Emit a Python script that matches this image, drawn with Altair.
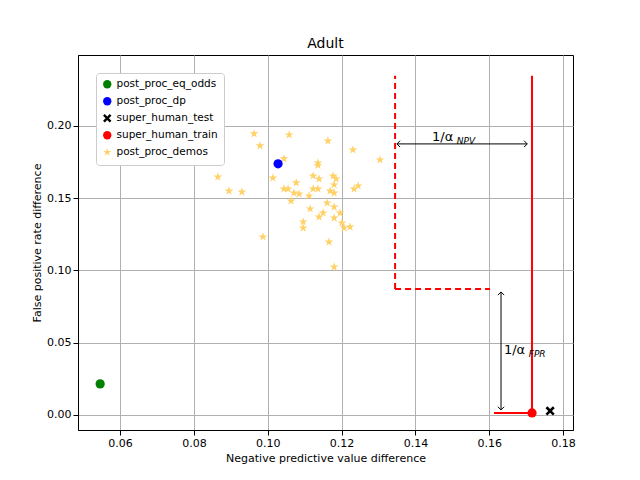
import altair as alt
import pandas as pd

demo_x = [0.0963, 0.1058, 0.0979, 0.1163, 0.1231, 0.1304, 0.1044, 0.1136, 0.1136, 0.0865,
          0.1014, 0.1123, 0.1139, 0.1177, 0.1185, 0.1077, 0.1180, 0.0895, 0.0930, 0.1044,
          0.1055, 0.1071, 0.1085, 0.1112, 0.1123, 0.1136, 0.1169, 0.1180, 0.1234, 0.1245,
          0.1063, 0.1161, 0.1180, 0.1115, 0.1150, 0.1139, 0.1196, 0.1180, 0.1096, 0.1096,
          0.1201, 0.1207, 0.1223, 0.0987, 0.1166, 0.1180]
demo_y = [0.1945, 0.1938, 0.1862, 0.1896, 0.1834, 0.1765, 0.1772, 0.1744, 0.1727, 0.1647,
          0.1640, 0.1654, 0.1633, 0.1654, 0.1633, 0.1606, 0.1592, 0.1550, 0.1543, 0.1564,
          0.1564, 0.1536, 0.1529, 0.1516, 0.1564, 0.1564, 0.1550, 0.1536, 0.1564, 0.1585,
          0.1481, 0.1467, 0.1439, 0.1426, 0.1398, 0.1370, 0.1398, 0.1363, 0.1336, 0.1294,
          0.1329, 0.1294, 0.1301, 0.1232, 0.1197, 0.1024]

series = ["post_proc_eq_odds", "post_proc_dp", "super_human_test", "super_human_train", "post_proc_demos"]
colors = ["green", "blue", "black", "red", "#ffd166"]
star = "M0,-1L0.2245,-0.309L0.951,-0.309L0.363,0.118L0.588,0.809L0,0.382L-0.588,0.809L-0.363,0.118L-0.951,-0.309L-0.2245,-0.309Z"
xmark = "M-1,-0.6L-0.6,-1L0,-0.4L0.6,-1L1,-0.6L0.4,0L1,0.6L0.6,1L0,0.4L-0.6,1L-1,0.6L-0.4,0Z"
shapes = ["circle", "circle", xmark, "circle", star]

pts = pd.DataFrame({
    "x": [0.0546, 0.1028, 0.1765, 0.1716] + demo_x,
    "y": [0.0215, 0.1737, 0.0028, 0.0014] + demo_y,
    "series": series[:4] + [series[4]] * len(demo_x),
})
pts["z"] = pts["series"].map({"post_proc_demos": 0}).fillna(1)

# solid and dashed segments
solid = pd.DataFrame({"x": [0.1716, 0.1613], "x2": [0.1716, 0.1716],
                      "y": [0.0014, 0.0014], "y2": [0.2346, 0.0014]})
dashed = pd.DataFrame({"x": [0.1345, 0.1345], "x2": [0.1345, 0.1602],
                       "y": [0.0872, 0.0872], "y2": [0.2346, 0.0872]})
arrows = pd.DataFrame({"x": [0.1350, 0.1632], "x2": [0.1703, 0.1632],
                       "y": [0.1875, 0.0851], "y2": [0.1875, 0.0035]})
heads = pd.DataFrame({"x": [0.1350, 0.1703, 0.1632, 0.1632],
                      "y": [0.1875, 0.1875, 0.0851, 0.0035],
                      "a": [0, 180, 90, 270]})
labels = pd.DataFrame({"x": [0.1445, 0.1640], "y": [0.1925, 0.0450],
                       "t": ["1/α", "1/α"], "sx": [0.1512, 0.1707],
                       "sy": [0.1898, 0.0423], "s": ["NPV", "FPR"]})

xs = alt.Scale(domain=[0.0486, 0.1827], nice=False, zero=False)
ys = alt.Scale(domain=[-0.0104, 0.249], nice=False, zero=False)
X = alt.X("x:Q", scale=xs, title="Negative predictive value difference",
          axis=alt.Axis(values=[0.06, 0.08, 0.10, 0.12, 0.14, 0.16, 0.18], format=".2f"))
Y = alt.Y("y:Q", scale=ys, title="False positive rate difference",
          axis=alt.Axis(values=[0.0, 0.05, 0.10, 0.15, 0.20], format=".2f"))

points = alt.Chart(pts).mark_point(filled=True, size=85, opacity=1).encode(
    x=X, y=Y, order="z:Q",
    color=alt.Color("series:N", scale=alt.Scale(domain=series, range=colors), title=None),
    shape=alt.Shape("series:N", scale=alt.Scale(domain=series, range=shapes), title=None),
)
solid_l = alt.Chart(solid).mark_rule(color="red", strokeWidth=2).encode(x=X, x2="x2", y=Y, y2="y2")
dash_l = alt.Chart(dashed).mark_rule(color="red", strokeWidth=2, strokeDash=[6, 4]).encode(x=X, x2="x2", y=Y, y2="y2")
arr_l = alt.Chart(arrows).mark_rule(color="black", strokeWidth=1).encode(x=X, x2="x2", y=Y, y2="y2")
head_l = alt.Chart(heads).mark_point(shape="M1,-1L0,0L1,1", filled=False, color="black", size=40, strokeWidth=1, opacity=1).encode(
    x=X, y=Y, angle=alt.Angle("a:Q", scale=None))
txt = alt.Chart(labels).mark_text(align="left", fontSize=13, color="black").encode(x=X, y=Y, text="t:N")
sub = alt.Chart(labels).mark_text(align="left", fontSize=9, fontStyle="italic", color="black").encode(
    x=alt.X("sx:Q", scale=xs), y=alt.Y("sy:Q", scale=ys), text="s:N")

chart = (solid_l + dash_l + arr_l + head_l + points + txt + sub).properties(
    width=495, height=375,
    padding={"left": 23, "top": 29, "right": 5, "bottom": 5},
    title=alt.TitleParams("Adult", fontSize=14, fontWeight="normal", font="DejaVu Sans"),
).configure_axis(
    grid=True, gridColor="#b0b0b0", labelFont="DejaVu Sans", titleFont="DejaVu Sans",
    labelFontSize=11, titleFontSize=11, titleFontWeight="normal", labelColor="black",
    titleColor="black", domainColor="black", tickColor="black",
).configure_view(stroke="black").configure_legend(
    orient="top-left", fillColor="white", strokeColor="#cccccc", padding=6, cornerRadius=3,
    labelFont="DejaVu Sans", labelFontSize=10.5, symbolSize=70, symbolOpacity=1,
).configure_text(font="DejaVu Sans")

chart.save("out.html", embed_options={"renderer": "svg", "actions": False})
